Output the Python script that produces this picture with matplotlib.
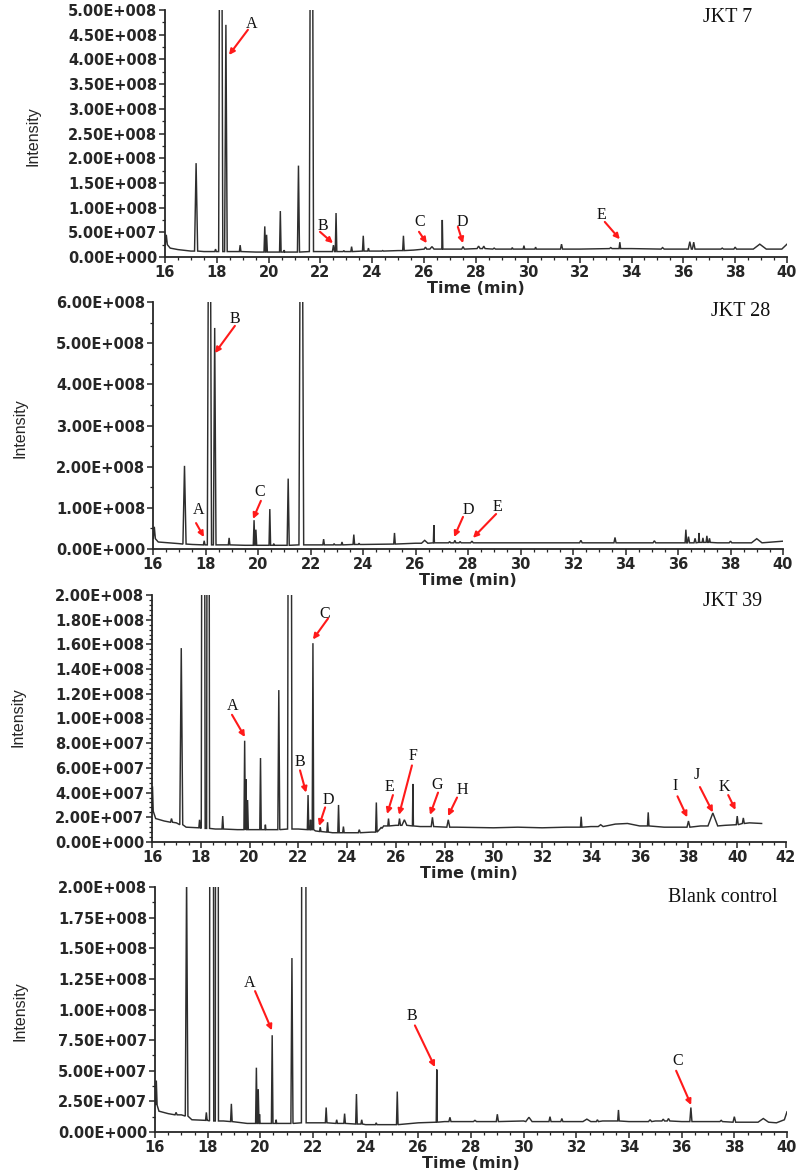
import numpy as np
import matplotlib
matplotlib.use("Agg")
import matplotlib.pyplot as plt
from matplotlib.ticker import MultipleLocator, AutoMinorLocator, FuncFormatter

# ---------------- data (intensity values in units of 1e7) ----------------
# JKT 7
jkt7_base_t = [16.0, 16.2, 16.5, 17.0, 17.5, 18.0, 18.6, 19.5, 20.2, 21.0, 22.0, 23.0, 24.0, 25.0,
               25.6, 26.0, 27.0, 28.0, 29.0, 30.0, 31.0, 32.0, 33.0, 34.0, 35.0, 36.0, 37.0, 38.0,
               39.5, 39.8, 40.0]
jkt7_base_v = [3.0, 1.8, 1.5, 1.2, 1.1, 1.1, 1.1, 1.0, 1.0, 1.0, 1.1, 1.1, 1.2, 1.3,
               1.4, 1.6, 1.6, 1.7, 1.6, 1.6, 1.6, 1.6, 1.7, 1.7, 1.6, 1.6, 1.6, 1.6,
               1.6, 1.6, 2.6]
jkt7_peak_t = [16.05, 17.2, 17.95, 18.15, 18.35, 18.9, 19.85, 19.92, 20.45, 20.6, 21.15, 21.65,
               22.5, 22.6, 22.9, 23.2, 23.65, 23.85, 24.4, 25.2, 26.05, 26.3, 26.7, 27.5, 28.1,
               28.3, 28.7, 29.4, 29.85, 30.3, 31.3, 33.2, 33.55, 35.2, 36.25, 36.4, 37.5, 38.0,
               38.95]
jkt7_peak_h = [4.5, 19.0, 1.6, 150, 47.0, 2.4, 6.2, 4.5, 9.3, 1.4, 18.5, 150,
               2.4, 8.9, 1.3, 2.1, 4.3, 1.8, 1.3, 4.3, 2.0, 2.1, 7.5, 2.1, 2.2,
               2.2, 1.8, 1.9, 2.3, 2.0, 2.6, 1.9, 3.0, 1.9, 3.1, 3.0, 1.8, 2.0,
               2.6]
jkt7_peak_w = [0.04, 0.06, 0.03, 0.08, 0.05, 0.03, 0.03, 0.03, 0.03, 0.02, 0.04, 0.08,
               0.04, 0.03, 0.03, 0.03, 0.03, 0.03, 0.03, 0.03, 0.05, 0.08, 0.02, 0.05, 0.06,
               0.05, 0.05, 0.03, 0.03, 0.03, 0.04, 0.05, 0.03, 0.06, 0.06, 0.05, 0.05, 0.05,
               0.25]
jkt7_peak_b = [2.5, 1.2, 1.1, 1.1, 1.1, 1.1, 1.0, 1.0, 1.0, 1.0, 1.0, 1.1,
               1.1, 1.1, 1.1, 1.1, 1.2, 1.2, 1.2, 1.3, 1.6, 1.6, 1.6, 1.6, 1.7,
               1.7, 1.6, 1.6, 1.6, 1.6, 1.6, 1.7, 1.7, 1.6, 1.6, 1.6, 1.6, 1.6,
               1.6]

# JKT 28
jkt28_base_t = [16.0, 16.2, 17.0, 17.5, 18.0, 18.6, 19.5, 21.0, 22.0, 24.0, 25.0, 26.0, 27.0,
                28.0, 30.0, 32.0, 34.0, 35.0, 36.0, 37.5, 38.5, 40.0]
jkt28_base_v = [3.0, 1.7, 1.3, 1.1, 1.0, 1.0, 0.9, 0.9, 1.0, 1.1, 1.2, 1.4, 1.5,
                1.5, 1.5, 1.5, 1.5, 1.5, 1.5, 1.5, 1.5, 1.9]
jkt28_peak_t = [16.05, 17.2, 17.95, 18.15, 18.35, 18.9, 19.85, 19.92, 20.45, 20.6, 21.15, 21.65,
                22.5, 22.9, 23.2, 23.65, 23.85, 25.2, 26.35, 26.7, 27.3, 27.5, 27.7, 28.15,
                32.3, 33.6, 35.1, 36.3, 36.4, 36.65, 36.8, 36.95, 37.1, 37.2, 38.0, 39.0]
jkt28_peak_h = [5.4, 20.2, 2.0, 150, 53.7, 2.7, 7.0, 4.7, 9.7, 1.3, 17.1, 150,
                2.4, 1.3, 1.7, 3.5, 1.4, 3.9, 2.1, 5.8, 1.8, 2.1, 1.8, 1.9,
                2.1, 2.8, 2.0, 4.7, 3.0, 2.6, 3.9, 2.7, 3.2, 2.6, 1.9, 2.5]
jkt28_peak_w = [0.04, 0.06, 0.03, 0.08, 0.05, 0.03, 0.03, 0.03, 0.03, 0.02, 0.04, 0.09,
                0.03, 0.03, 0.03, 0.03, 0.03, 0.03, 0.12, 0.02, 0.04, 0.04, 0.04, 0.05,
                0.05, 0.04, 0.05, 0.03, 0.04, 0.04, 0.02, 0.03, 0.03, 0.03, 0.05, 0.2]
jkt28_peak_b = [2.5, 1.2, 1.0, 1.0, 1.0, 1.0, 0.9, 0.9, 0.9, 0.9, 0.9, 1.0,
                1.0, 1.0, 1.0, 1.1, 1.1, 1.2, 1.4, 1.5, 1.5, 1.5, 1.5, 1.5,
                1.5, 1.5, 1.5, 1.5, 1.5, 1.5, 1.6, 1.6, 1.6, 1.6, 1.5, 1.5]

# JKT 39
jkt39_base_t = [16.0, 16.15, 16.5, 17.0, 17.4, 18.0, 18.6, 19.5, 20.3, 21.0, 22.0, 22.7, 23.4,
                24.0, 25.0, 25.5, 26.0, 27.0, 28.5, 30.0, 31.0, 32.0, 33.0, 34.0, 35.0, 35.5,
                36.0, 37.0, 37.8, 38.5, 39.5, 40.5, 41.0]
jkt39_base_v = [3.0, 1.9, 1.7, 1.55, 1.2, 1.15, 1.05, 1.0, 1.0, 1.0, 1.05, 0.9, 0.75,
                0.75, 0.8, 1.3, 1.35, 1.25, 1.2, 1.15, 1.2, 1.15, 1.2, 1.25, 1.45, 1.5,
                1.3, 1.2, 1.2, 1.3, 1.35, 1.55, 1.5]
jkt39_peak_t = [16.02, 16.8, 17.2, 17.95, 18.1, 18.3, 18.9, 19.8, 19.85, 19.92, 20.45, 20.65,
                21.2, 21.65, 22.4, 22.5, 22.6, 22.9, 23.2, 23.65, 23.85, 24.5, 25.2, 25.4,
                25.7, 26.15, 26.35, 26.7, 27.5, 28.15, 33.6, 34.4, 36.35, 38.0, 39.0, 40.0,
                40.25]
jkt39_peak_h = [4.5, 1.9, 15.7, 1.8, 100, 100, 2.1, 8.2, 5.1, 3.4, 6.8, 1.4,
                12.3, 100, 3.8, 1.8, 16.1, 1.2, 1.6, 3.0, 1.25, 1.0, 3.2, 1.2,
                1.9, 1.9, 1.8, 4.7, 2.0, 1.8, 2.05, 1.4, 2.4, 1.7, 2.35, 2.1,
                1.95]
jkt39_peak_w = [0.03, 0.04, 0.06, 0.03, 0.08, 0.06, 0.03, 0.03, 0.02, 0.03, 0.03, 0.02,
                0.04, 0.09, 0.03, 0.02, 0.03, 0.03, 0.03, 0.03, 0.03, 0.04, 0.03, 0.03,
                0.03, 0.04, 0.1, 0.02, 0.05, 0.06, 0.03, 0.1, 0.03, 0.06, 0.2, 0.04,
                0.04]
jkt39_peak_b = [2.5, 1.6, 1.4, 1.15, 1.1, 1.1, 1.05, 1.0, 1.0, 1.0, 1.0, 1.0,
                1.0, 1.05, 1.0, 1.0, 1.0, 0.85, 0.8, 0.75, 0.75, 0.75, 0.8, 1.1,
                1.3, 1.35, 1.35, 1.3, 1.25, 1.2, 1.2, 1.25, 1.3, 1.2, 1.3, 1.4,
                1.5]

# Blank control
blank_base_t = [16.0, 16.15, 16.5, 17.0, 17.4, 18.0, 18.6, 19.5, 20.2, 21.0, 22.0, 23.0, 24.0,
                25.0, 26.0, 27.0, 28.0, 30.0, 31.0, 32.0, 33.0, 34.0, 35.0, 36.0, 37.0, 38.5,
                39.6, 39.9, 40.0]
blank_base_v = [2.5, 1.7, 1.5, 1.4, 1.0, 0.95, 0.9, 0.7, 0.7, 0.7, 0.75, 0.7, 0.6,
                0.6, 0.75, 0.85, 0.85, 0.9, 0.85, 0.85, 0.9, 0.85, 0.9, 0.85, 0.85, 0.8,
                0.75, 1.0, 1.65]
blank_peak_t = [16.05, 16.8, 17.2, 17.95, 18.15, 18.35, 18.9, 19.85, 19.92, 19.97, 20.45, 20.6,
                21.2, 21.65, 22.5, 22.9, 23.2, 23.65, 23.85, 24.4, 25.2, 26.7, 27.2, 28.15,
                29.0, 30.2, 31.0, 31.45, 32.4, 32.8, 33.6, 34.8, 35.3, 35.5, 36.35, 37.5,
                38.0, 39.1]
blank_peak_h = [4.2, 1.6, 21.0, 1.6, 200, 200, 2.3, 5.25, 3.5, 1.45, 7.9, 1.0,
                14.2, 200, 2.0, 1.0, 1.5, 3.1, 1.0, 0.75, 3.3, 5.1, 1.2, 0.95,
                1.45, 1.2, 1.25, 1.1, 1.05, 1.0, 1.8, 1.0, 1.05, 1.1, 2.0, 0.95,
                1.25, 1.1]
blank_peak_w = [0.03, 0.04, 0.05, 0.03, 0.08, 0.06, 0.03, 0.03, 0.03, 0.02, 0.03, 0.02,
                0.04, 0.09, 0.03, 0.03, 0.03, 0.03, 0.03, 0.03, 0.03, 0.02, 0.04, 0.06,
                0.04, 0.12, 0.04, 0.04, 0.15, 0.04, 0.03, 0.06, 0.05, 0.05, 0.04, 0.05,
                0.05, 0.2]
blank_peak_b = [2.2, 1.4, 1.3, 0.95, 0.9, 0.9, 0.85, 0.7, 0.7, 0.7, 0.7, 0.7,
                0.7, 0.75, 0.75, 0.7, 0.7, 0.65, 0.65, 0.6, 0.6, 0.8, 0.85, 0.85,
                0.85, 0.85, 0.85, 0.85, 0.85, 0.85, 0.9, 0.85, 0.9, 0.9, 0.85, 0.85,
                0.8, 0.8]

# annotation labels (text, text xy, arrow tail, arrow tip) -- intensities in units of 1e7
jkt7_labels = [("A", (19.36, 47.2), (19.2, 46.0), (18.47, 40.9)),
               ("B", (22.1, 6.3), (21.98, 5.1), (22.48, 2.8)),
               ("C", (25.84, 7.1), (25.8, 5.1), (26.1, 2.8)),
               ("D", (27.46, 7.1), (27.3, 6.1), (27.5, 2.8)),
               ("E", (32.86, 8.5), (32.97, 7.1), (33.55, 3.6))]
jkt28_labels = [("A", (17.75, 9.5), (17.64, 6.3), (17.94, 2.9)),
                ("B", (19.12, 55.9), (19.12, 54.2), (18.36, 47.6)),
                ("C", (20.08, 13.8), (20.11, 11.7), (19.81, 7.3)),
                ("D", (28.0, 9.5), (27.81, 7.8), (27.47, 2.9)),
                ("E", (29.14, 10.2), (29.07, 8.5), (28.19, 2.7))]
jkt39_labels = [("A", (19.32, 11.0), (19.28, 10.3), (19.81, 8.5)),
                ("B", (22.07, 6.5), (22.07, 5.8), (22.32, 4.0)),
                ("C", (23.1, 18.5), (23.22, 18.1), (22.6, 16.4)),
                ("D", (23.22, 3.4), (23.1, 2.8), (22.85, 1.3)),
                ("E", (25.72, 4.45), (25.88, 3.8), (25.64, 2.27)),
                ("F", (26.7, 7.0), (26.66, 6.2), (26.13, 2.2)),
                ("G", (27.69, 4.6), (27.73, 4.0), (27.4, 2.2)),
                ("H", (28.72, 4.2), (28.51, 3.6), (28.14, 2.1)),
                ("I", (37.45, 4.5), (37.55, 3.7), (37.95, 2.0)),
                ("J", (38.33, 5.4), (38.47, 4.45), (39.0, 2.4)),
                ("K", (39.47, 4.45), (39.63, 3.8), (39.93, 2.6))]
blank_labels = [("A", (19.6, 12.2), (19.8, 11.5), (20.44, 8.3)),
                ("B", (25.76, 9.5), (25.87, 8.7), (26.63, 5.3)),
                ("C", (35.83, 5.8), (35.79, 5.0), (36.36, 2.2))]

titles = ["JKT 7", "JKT 28", "JKT 39", "Blank control"]
x_limits = [(16, 40), (16, 40), (16, 42), (16, 40)]
y_tops = [5.0e8, 6.0e8, 2.0e8, 2.0e8]
y_steps = [0.5e8, 1.0e8, 0.2e8, 0.25e8]
y_minor = [2, 2, 5, 2]

panels = [
    (jkt7_base_t, jkt7_base_v, jkt7_peak_t, jkt7_peak_h, jkt7_peak_w, jkt7_peak_b, jkt7_labels),
    (jkt28_base_t, jkt28_base_v, jkt28_peak_t, jkt28_peak_h, jkt28_peak_w, jkt28_peak_b, jkt28_labels),
    (jkt39_base_t, jkt39_base_v, jkt39_peak_t, jkt39_peak_h, jkt39_peak_w, jkt39_peak_b, jkt39_labels),
    (blank_base_t, blank_base_v, blank_peak_t, blank_peak_h, blank_peak_w, blank_peak_b, blank_labels),
]

UNIT = 1e7

# ---------------- layout ----------------
W, H = 800, 1174
rects_px = [(165, 10, 787, 257), (153, 302, 783, 549), (152, 595, 786, 842), (155, 887, 787, 1132)]
title_px = [(752, 18), (770, 311), (762, 601), (778, 897)]
ylabel_px = [(33, 136), (20, 428), (18, 717), (20, 1011)]

fig = plt.figure(figsize=(W / 100, H / 100), dpi=100)
fig.patch.set_facecolor("white")


def build_trace(bt, bv, pt, ph, pw, pb):
    pts = []
    for t, v in zip(bt, bv):
        if not any(abs(t - p) < w for p, w in zip(pt, pw)):
            pts.append((t, v))
    for p, h, w, b in zip(pt, ph, pw, pb):
        pts += [(p - w, b), (p, h), (p + w, b)]
    pts.sort(key=lambda q: q[0])
    arr = np.array(pts)
    return arr[:, 0], arr[:, 1] * UNIT


def sci_fmt(v, pos):
    s = f"{v:.2E}"
    m, e = s.split("E")
    return f"{m}E{e[0]}{e[1:].zfill(3)}"


ink = "#262626"
tick_font = dict(family="DejaVu Sans", weight="bold", size=10.5)

for i, (bt, bv, pt, ph, pw, pb, labels) in enumerate(panels):
    l, t, r, b = rects_px[i]
    ax = fig.add_axes([l / W, 1 - b / H, (r - l) / W, (b - t) / H])
    x, y = build_trace(bt, bv, pt, ph, pw, pb)
    ax.plot(x, y, color="#2e2e2e", lw=1.05, solid_joinstyle="miter")
    ax.set_xlim(*x_limits[i])
    ax.set_ylim(0, y_tops[i])
    for side in ("top", "right"):
        ax.spines[side].set_visible(False)
    for side in ("left", "bottom"):
        ax.spines[side].set_linewidth(1.3)
        ax.spines[side].set_color(ink)
    ax.xaxis.set_major_locator(MultipleLocator(2))
    ax.xaxis.set_minor_locator(AutoMinorLocator(4))
    ax.yaxis.set_major_locator(MultipleLocator(y_steps[i]))
    ax.yaxis.set_minor_locator(AutoMinorLocator(y_minor[i]))
    ax.yaxis.set_major_formatter(FuncFormatter(sci_fmt))
    ax.tick_params(which="major", direction="out", length=4, width=1.1, color=ink, pad=1.5,
                   labelcolor=ink)
    ax.tick_params(which="minor", direction="out", length=2.5, width=0.9, color=ink)
    for lab in ax.get_xticklabels() + ax.get_yticklabels():
        lab.set_fontfamily(tick_font["family"])
        lab.set_fontweight(tick_font["weight"])
        lab.set_fontsize(tick_font["size"])
    ax.set_xlabel("Time (min)", fontfamily="DejaVu Sans", fontweight="bold", fontsize=11.5,
                  color=ink, labelpad=1)

    for txt, txy, tail, tip in labels:
        ax.text(txy[0], txy[1] * UNIT, txt, family="Liberation Serif", fontsize=11.5,
                ha="center", va="center", color="#111111")
        ax.annotate("", xy=(tip[0], tip[1] * UNIT), xytext=(tail[0], tail[1] * UNIT),
                    arrowprops=dict(arrowstyle="-|>", color="#ff1a1a", lw=1.5,
                                    mutation_scale=8, shrinkA=0, shrinkB=0))

    tx, ty = title_px[i]
    fig.text(tx / W, 1 - ty / H, titles[i], family="Liberation Serif", fontsize=14.5,
             ha="right", va="center", color="#111111")
    lx, ly = ylabel_px[i]
    fig.text(lx / W, 1 - ly / H, "Intensity", family=["Liberation Sans Narrow", "Liberation Sans"],
             fontsize=11.5, rotation=90, ha="center", va="center", color=ink)

fig.savefig("out.png", dpi=100, facecolor="white")
